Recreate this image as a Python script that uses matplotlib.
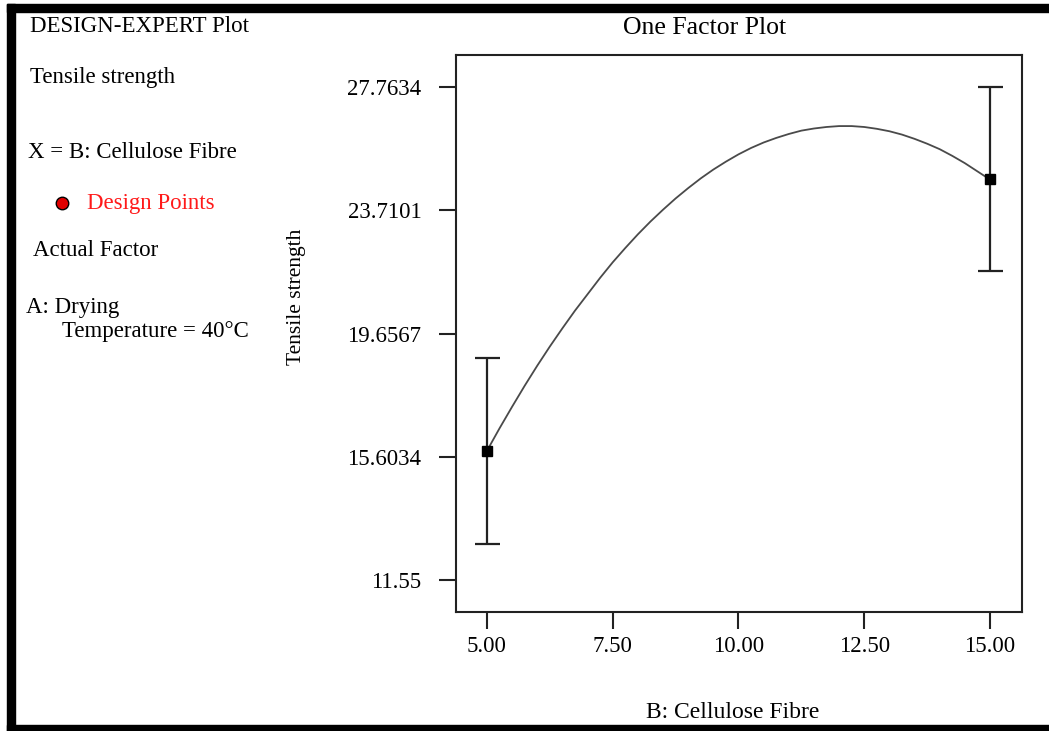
#!/usr/bin/env python3
# -*- coding: utf-8 -*-
"""One factor plot (Design-Expert style) for tensile strength vs cellulose fibre."""

import matplotlib
matplotlib.use("Agg")
import matplotlib.pyplot as plt
from matplotlib.patches import Rectangle
from matplotlib.lines import Line2D

# design points (factor level, predicted response, half-width of LSD bar)
design_x = [5.0, 15.0]
design_y = [15.80, 24.73]
design_err = [3.06, 3.03]

# model curve
curve_x = [5.0, 5.25, 5.5, 5.75, 6.0, 6.25, 6.5, 6.75, 7.0, 7.25, 7.5, 7.75,
           8.0, 8.25, 8.5, 8.75, 9.0, 9.25, 9.5, 9.75, 10.0, 10.25, 10.5,
           10.75, 11.0, 11.25, 11.5, 11.75, 12.0, 12.25, 12.5, 12.75, 13.0,
           13.25, 13.5, 13.75, 14.0, 14.25, 14.5, 14.75, 15.0]
curve_y = [15.80, 16.54, 17.25, 17.94, 18.60, 19.23, 19.83, 20.41, 20.95,
           21.49, 22.00, 22.47, 22.92, 23.34, 23.73, 24.10, 24.44, 24.76,
           25.05, 25.31, 25.55, 25.76, 25.94, 26.09, 26.22, 26.33, 26.40,
           26.45, 26.48, 26.48, 26.45, 26.39, 26.31, 26.20, 26.06, 25.90,
           25.72, 25.50, 25.26, 24.99, 24.72]

xticks = [5.0, 7.5, 10.0, 12.5, 15.0]
xtick_labels = ["5.00", "7.50", "10.00", "12.50", "15.00"]
yticks = [11.55, 15.6034, 19.6567, 23.7101, 27.7634]
ytick_labels = ["11.55", "15.6034", "19.6567", "23.7101", "27.7634"]

W, H = 1049, 731
plt.rcParams["font.family"] = ["Liberation Serif", "DejaVu Serif"]

fig = plt.figure(figsize=(W / 100, H / 100), dpi=100)
fig.patch.set_facecolor("white")


def fx(px):
    return px / W


def fy(py):
    return 1 - py / H


ax = fig.add_axes([fx(456), fy(612), fx(1022) - fx(456), fy(55) - fy(612)])
ax.set_xlim(4.384, 15.636)
ax.set_ylim(10.496, 28.818)

ax.plot(curve_x, curve_y, color="#4a4a4a", lw=1.3, zorder=2)
ax.errorbar(design_x, design_y, yerr=design_err, fmt="s", color="black",
            ecolor="#222222", elinewidth=1.6, capsize=9, capthick=1.6,
            markersize=7, zorder=3)

ax.set_xticks(xticks)
ax.set_xticklabels(xtick_labels)
ax.set_yticks(yticks)
ax.set_yticklabels(ytick_labels)
ax.tick_params(axis="both", direction="out", length=12, width=1.5,
               color="#222222", labelsize=16.5)
ax.tick_params(axis="y", pad=13)
ax.tick_params(axis="x", pad=5)
for sp in ax.spines.values():
    sp.set_linewidth(1.5)
    sp.set_color("#222222")

# titles and labels
fig.text(fx(705), fy(28), "One Factor Plot", ha="center", va="center", fontsize=18.5)
fig.text(fx(733), fy(712), "B: Cellulose Fibre", ha="center", va="center", fontsize=17)
fig.text(fx(296), fy(297), "Tensile strength", ha="center", va="center",
         rotation=90, fontsize=15.5)

# left annotation block
left_notes = [
    (30, 26, "DESIGN-EXPERT Plot"),
    (30, 78, "Tensile strength"),
    (28, 153, "X = B: Cellulose Fibre"),
    (33, 250, "Actual Factor"),
    (26, 307, "A: Drying"),
    (62, 331, "Temperature = 40\u00b0C"),
]
for px, py, txt in left_notes:
    fig.text(fx(px), fy(py), txt, ha="left", va="center", fontsize=16.5)
fig.text(fx(87), fy(203), "Design Points", ha="left", va="center",
         fontsize=16.5, color="#ff1a1a")
fig.add_artist(Line2D([fx(62)], [fy(203)], marker="o", markersize=9,
                      markerfacecolor="#e00000", markeredgecolor="black",
                      markeredgewidth=1.0, transform=fig.transFigure))

# black frame strips (left, top, bottom)
fig.add_artist(Rectangle((fx(7), 0), fx(8), fy(4),
                         transform=fig.transFigure, color="black"))
fig.add_artist(Rectangle((fx(7), fy(12)), 1 - fx(7), fy(4) - fy(12),
                         transform=fig.transFigure, color="black"))
fig.add_artist(Rectangle((fx(7), 0), 1 - fx(7), fy(725),
                         transform=fig.transFigure, color="black"))

fig.savefig("out.png", dpi=100)
